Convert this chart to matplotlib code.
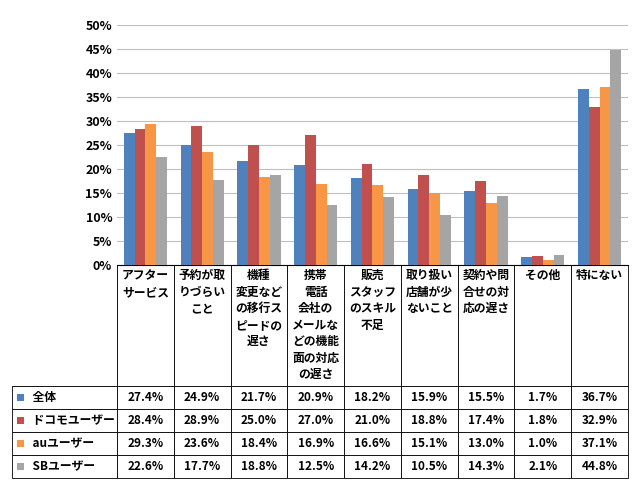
import matplotlib.pyplot as plt
import matplotlib.patches as mpatches
import numpy as np

plt.rcParams['font.family'] = 'Noto Sans CJK JP'

categories = ['アフター\nサービス', '予約が取\nりづらい\nこと', '機種\n変更など\nの移行ス\nピードの\n遅さ',
              '携帯\n電話\n会社の\nメールな\nどの機能\n面の対応\nの遅さ', '販売\nスタッフ\nのスキル\n不足',
              '取り扱い\n店舗が少\nないこと', '契約や問\n合せの対\n応の遅さ', 'その他', '特にない']
series_names = ['全体', 'ドコモユーザー', 'auユーザー', 'SBユーザー']
all_users = [27.4, 24.9, 21.7, 20.9, 18.2, 15.9, 15.5, 1.7, 36.7]
docomo = [28.4, 28.9, 25.0, 27.0, 21.0, 18.8, 17.4, 1.8, 32.9]
au = [29.3, 23.6, 18.4, 16.9, 16.6, 15.1, 13.0, 1.0, 37.1]
sb = [22.6, 17.7, 18.8, 12.5, 14.2, 10.5, 14.3, 2.1, 44.8]
colors = ['#4F81BD', '#C0504D', '#F79646', '#A5A5A5']

series = [all_users, docomo, au, sb]
fig = plt.figure(figsize=(6.4, 4.8), dpi=100)
ax = fig.add_axes([117 / 640, 1 - 265 / 480, 511 / 640, 240 / 480])
x = np.arange(len(categories))
bw = 0.19
for i, vals in enumerate(series):
    ax.bar(x + (i - 1.5) * bw, vals, bw, color=colors[i], zorder=3)

ax.set_xlim(-0.5, len(categories) - 0.5)
ax.set_ylim(0, 50)
ax.set_yticks(range(0, 51, 5))
ax.set_yticklabels([f'{v}%' for v in range(0, 51, 5)], fontsize=9, fontweight='bold')
ax.set_xticks([])
ax.grid(axis='y', color='#BFBFBF', linewidth=0.8, zorder=0)
for s in ['top', 'right', 'left']:
    ax.spines[s].set_visible(False)
ax.tick_params(axis='y', length=0)

# table below the chart (first column holds the series names)
nlines = 7
header = [''] + [c + '\n' * (nlines - 1 - c.count('\n')) for c in categories]
cell_text = [['    ' + n] + [f'{v:.1f}%' for v in vals] for n, vals in zip(series_names, series)]
tbl = ax.table(cellText=[header] + cell_text, cellLoc='center',
               bbox=[(12 - 117) / 511, -213 / 240, 616 / 511, 213 / 240])
tbl.auto_set_font_size(False)
for (r, c), cell in tbl.get_celld().items():
    cell.set_edgecolor('black')
    cell.set_linewidth(0.6)
    cell.set_width(105 if c == 0 else 56.8)
    cell.set_height(120 if r == 0 else 23)
    t = cell.get_text()
    t.set_fontsize(8.5)
    t.set_fontweight('bold')
    if c == 0:
        t.set_ha('left')
        cell._loc = 'left'
    if r == 0:
        t.set_linespacing(1.35)
        if c == 0:
            cell.visible_edges = 'BR'

# legend keys in the row label cells
for i, col in enumerate(colors):
    yc = 1 - (265 + 120 * 213 / 212 + 23 * i + 11.5) / 480
    fig.patches.append(mpatches.Rectangle((17 / 640, yc - 3.5 / 480), 7 / 640, 7 / 480,
                                          facecolor=col, transform=fig.transFigure))

fig.savefig('out.png')
